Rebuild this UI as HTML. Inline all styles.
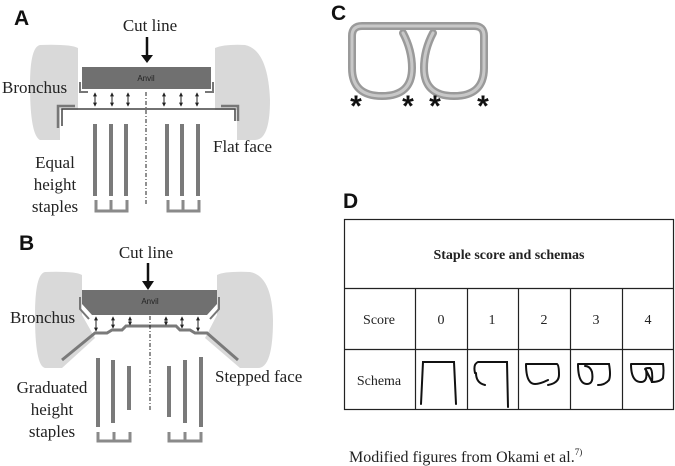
<!DOCTYPE html>
<html><head><meta charset="utf-8"><style>
html,body{margin:0;padding:0;background:#fff;}
svg{display:block;}
.s{font-family:"Liberation Serif",serif;fill:#222;}
.b{font-family:"Liberation Sans",sans-serif;font-weight:bold;fill:#111;}
</style></head><body>
<svg width="675" height="466" viewBox="0 0 675 466" xmlns="http://www.w3.org/2000/svg">
<defs>
<marker id="ah" viewBox="0 0 6 6" refX="5" refY="3" markerWidth="4" markerHeight="4" markerUnits="userSpaceOnUse" orient="auto-start-reverse"><path d="M0,0L6,3L0,6z" fill="#222"/></marker>
</defs>
<!-- Panel A -->
<text x="14" y="25" class="b" font-size="21">A</text>
<text x="150" y="31" class="s" font-size="17" text-anchor="middle">Cut line</text>
<line x1="147" y1="37" x2="147" y2="56" stroke="#111" stroke-width="2.5"/>
<path d="M141,55L153,55L147,63z" fill="#111"/>
<path d="M40,45 Q30,47 30,85 Q30,135 40,140 L60,140 L60,110 L78,110 L78,48 Q70,44 40,45z" fill="#d9d9d9"/>
<path d="M215,48 Q225,44 245,45 Q268,50 270,100 Q270,140 255,140 L237,140 L237,110 L215,110z" fill="#d9d9d9"/>
<rect x="82" y="67" width="129" height="22" fill="#707070"/>
<text x="146" y="81" font-family="Liberation Sans,sans-serif" font-size="8" fill="#222" text-anchor="middle">Anvil</text>
<path d="M80,82 L80,92 L88,92" stroke="#777" stroke-width="2" fill="none"/>
<path d="M213,82 L213,92 L205,92" stroke="#777" stroke-width="2" fill="none"/>
<g stroke="#222" stroke-width="1" marker-start="url(#ah)" marker-end="url(#ah)">
<line x1="95" y1="93" x2="95" y2="106"/><line x1="112" y1="93" x2="112" y2="106"/><line x1="128" y1="93" x2="128" y2="106"/>
<line x1="164" y1="93" x2="164" y2="106"/><line x1="181" y1="93" x2="181" y2="106"/><line x1="197" y1="93" x2="197" y2="106"/>
</g>
<path d="M62,126 L62,109 L235,109 L235,121" stroke="#444" stroke-width="1.5" fill="none"/>
<path d="M58,128 L58,106 L75,106" stroke="#777" stroke-width="2.5" fill="none"/>
<path d="M238,121 L238,106 L221,106" stroke="#777" stroke-width="2.5" fill="none"/>
<g fill="#7a7a7a">
<rect x="93" y="124" width="4" height="72"/><rect x="109" y="124" width="4" height="72"/><rect x="124" y="124" width="4" height="72"/>
<rect x="165" y="124" width="4" height="72"/><rect x="180" y="124" width="4" height="72"/><rect x="196" y="124" width="4" height="72"/>
</g>
<path d="M96,200 L96,211 L127,211 L127,200 M111,200 L111,211" stroke="#8a8a8a" stroke-width="3" fill="none"/>
<path d="M168,200 L168,211 L199,211 L199,200 M183,200 L183,211" stroke="#8a8a8a" stroke-width="3" fill="none"/>
<line x1="146" y1="92" x2="146" y2="205" stroke="#222" stroke-width="1" stroke-dasharray="4,2,1,2"/>
<text x="2" y="93" class="s" font-size="17">Bronchus</text>
<text x="213" y="152" class="s" font-size="17">Flat face</text>
<text x="55" y="168" class="s" font-size="17" text-anchor="middle">Equal</text>
<text x="55" y="190" class="s" font-size="17" text-anchor="middle">height</text>
<text x="55" y="212" class="s" font-size="17" text-anchor="middle">staples</text>

<!-- Panel B -->
<text x="19" y="250" class="b" font-size="21">B</text>
<text x="146" y="258" class="s" font-size="17" text-anchor="middle">Cut line</text>
<line x1="148" y1="263" x2="148" y2="282" stroke="#111" stroke-width="2.5"/>
<path d="M142,281L154,281L148,290z" fill="#111"/>
<path d="M45,272 Q35,274 35,315 Q35,366 45,368 L62,368 L95,338 L82,315 L82,275 Q75,271 45,272z" fill="#d9d9d9"/>
<path d="M217,275 Q225,271 250,272 Q272,276 273,320 Q273,368 258,368 L240,368 L205,338 L217,315z" fill="#d9d9d9"/>
<path d="M82,290 L217,290 L217,304 L207,315 L92,315 L82,304z" fill="#707070"/>
<text x="150" y="304" font-family="Liberation Sans,sans-serif" font-size="8" fill="#222" text-anchor="middle">Anvil</text>
<path d="M80,297 L80,309 L89,319" stroke="#777" stroke-width="2" fill="none"/>
<path d="M219,297 L219,309 L210,319" stroke="#777" stroke-width="2" fill="none"/>
<path d="M62,360 L95,333 L107,333 L112,330 L122,330 L126,326 L176,326 L180,330 L190,330 L195,333 L207,333 L238,360" stroke="#7a7a7a" stroke-width="3" fill="none"/>
<g stroke="#222" stroke-width="1" marker-start="url(#ah)" marker-end="url(#ah)">
<line x1="96" y1="317" x2="96" y2="331"/><line x1="113" y1="317" x2="113" y2="328"/><line x1="130" y1="317" x2="130" y2="325"/>
<line x1="166" y1="317" x2="166" y2="325"/><line x1="182" y1="317" x2="182" y2="328"/><line x1="198" y1="317" x2="198" y2="331"/>
</g>
<g fill="#7a7a7a">
<rect x="96" y="358" width="4" height="69"/><rect x="111" y="360" width="4" height="63"/><rect x="127" y="366" width="4" height="44"/>
<rect x="167" y="366" width="4" height="51"/><rect x="183" y="360" width="4" height="63"/><rect x="199" y="357" width="4" height="70"/>
</g>
<path d="M98,432 L98,441 L130,441 L130,432 M114,432 L114,441" stroke="#8a8a8a" stroke-width="3" fill="none"/>
<path d="M169,432 L169,441 L201,441 L201,432 M185,432 L185,441" stroke="#8a8a8a" stroke-width="3" fill="none"/>
<line x1="150" y1="316" x2="150" y2="412" stroke="#222" stroke-width="1" stroke-dasharray="4,2,1,2"/>
<text x="10" y="323" class="s" font-size="17">Bronchus</text>
<text x="215" y="382" class="s" font-size="17">Stepped face</text>
<text x="52" y="393" class="s" font-size="17" text-anchor="middle">Graduated</text>
<text x="52" y="415" class="s" font-size="17" text-anchor="middle">height</text>
<text x="52" y="437" class="s" font-size="17" text-anchor="middle">staples</text>

<!-- Panel C -->
<text x="331" y="20" class="b" font-size="21">C</text>
<g fill="none" stroke-linecap="round">
<path stroke="#9a9a9a" stroke-width="8" d="M403,33 Q412,50 412,68 Q412,96 382,96 Q352,96 352,68 L352,36 Q352,26 362,26 L474,26 Q484,26 484,36 L484,68 Q484,96 454,96 Q424,96 424,68 Q424,50 433,33"/>
<path stroke="#c8c8c8" stroke-width="3" d="M403,33 Q412,50 412,68 Q412,96 382,96 Q352,96 352,68 L352,36 Q352,26 362,26 L474,26 Q484,26 484,36 L484,68 Q484,96 454,96 Q424,96 424,68 Q424,50 433,33"/>
</g>
<g font-family="Liberation Sans,sans-serif" font-size="30" font-weight="bold" fill="#111" text-anchor="middle">
<text x="356" y="116">*</text><text x="408" y="116">*</text><text x="435" y="116">*</text><text x="483" y="116">*</text>
</g>

<!-- Panel D -->
<text x="343" y="208" class="b" font-size="21">D</text>
<g stroke="#222" stroke-width="1.2" fill="none">
<rect x="344.5" y="219.5" width="329" height="190"/>
<line x1="344" y1="288.5" x2="674" y2="288.5"/>
<line x1="344" y1="349.5" x2="674" y2="349.5"/>
<line x1="415.5" y1="288" x2="415.5" y2="410"/>
<line x1="467.5" y1="288" x2="467.5" y2="410"/>
<line x1="518.5" y1="288" x2="518.5" y2="410"/>
<line x1="570.5" y1="288" x2="570.5" y2="410"/>
<line x1="622.5" y1="288" x2="622.5" y2="410"/>
</g>
<text x="509" y="259" class="s" font-size="14" font-weight="bold" text-anchor="middle">Staple score and schemas</text>
<g class="s" font-size="14" text-anchor="middle">
<text x="379" y="324">Score</text><text x="441" y="324">0</text><text x="492" y="324">1</text><text x="544" y="324">2</text><text x="596" y="324">3</text><text x="648" y="324">4</text>
<text x="379" y="385">Schema</text>
</g>
<g stroke="#111" stroke-width="2" fill="none" stroke-linecap="round">
<path d="M421,404 L423,362 L454,362 L456,404"/>
<path d="M475,373 Q473,364 478,362 L507,362 L508,407 M476,373 Q476,383 485,385"/>
<path d="M526,364 L557,364 Q559,365 559,375 Q559,383 548,385 M526,364 Q526,384 535,384 Q540,384 548,380"/>
<path d="M578,364 Q578,384 587,384 Q594,384 592,372 Q590,366 585,366 M578,364 L609,364 Q611,375 609,380 Q605,385 598,385"/>
<path d="M631,364 Q631,382 641,382 Q648,382 646,370 Q643,368 650,368 Q653,370 652,382 Q660,382 663,378 Q664,370 663,364 L631,364 M646,370 Q649,376 652,382"/>
</g>
<text x="349" y="462" class="s" font-size="16">Modified figures from Okami et al.<tspan font-size="9" dy="-7">7)</tspan></text>
</svg>
</body></html>
